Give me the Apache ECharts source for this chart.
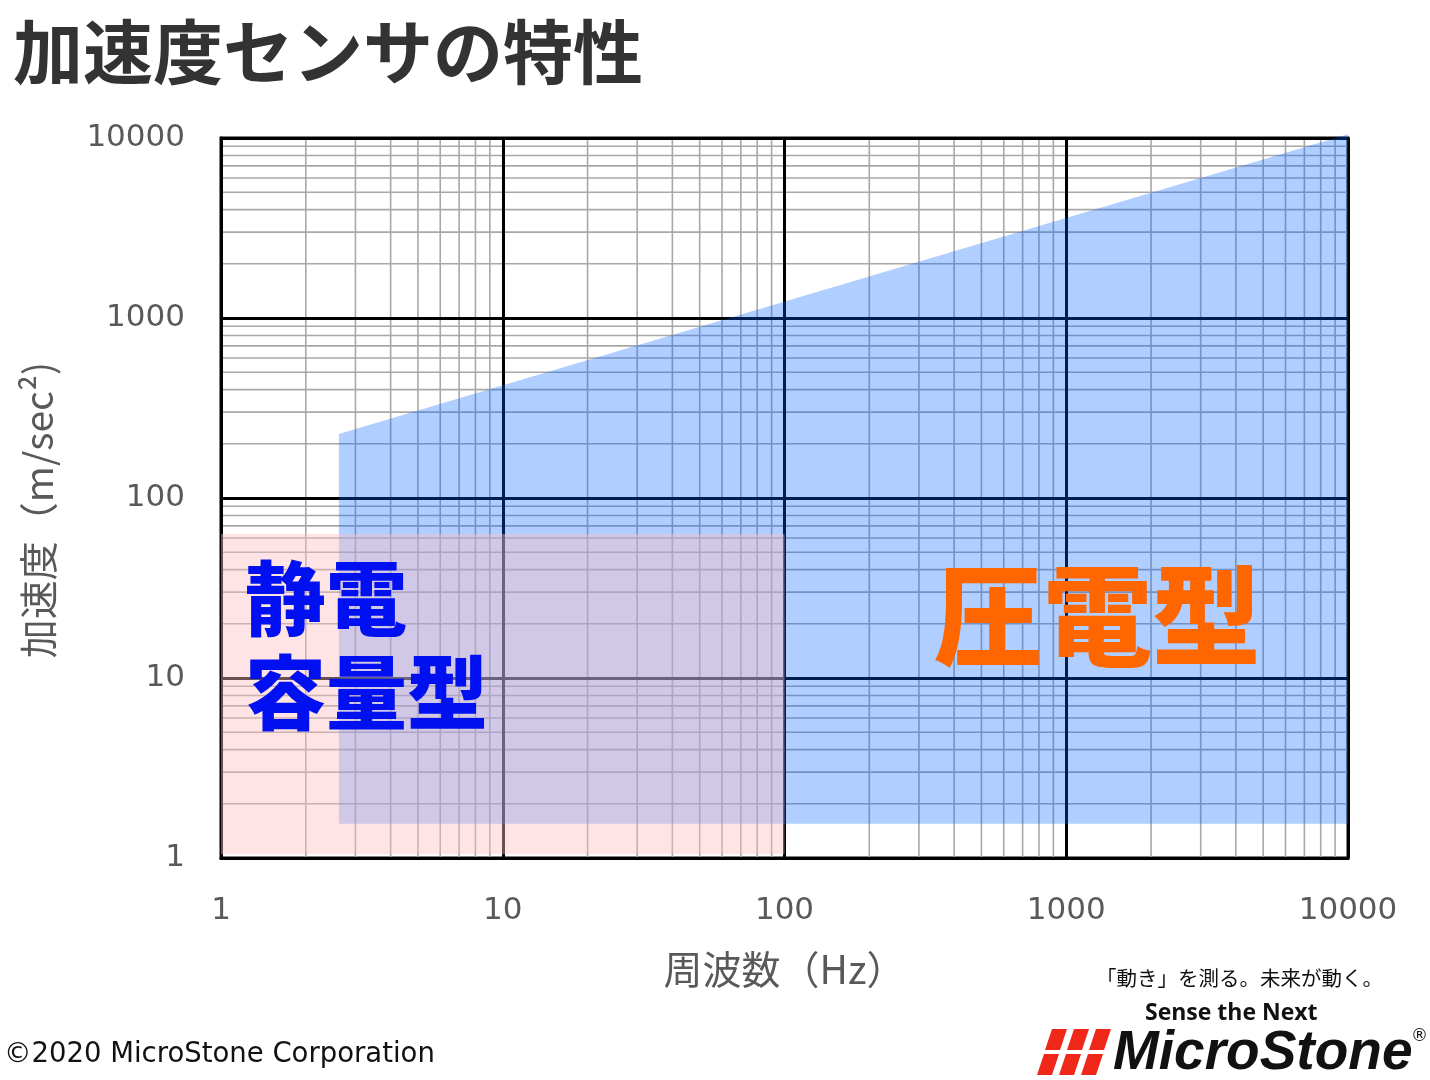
<!DOCTYPE html>
<html>
<head>
<meta charset="utf-8">
<script src="https://cdn.jsdelivr.net/npm/echarts@6/dist/echarts.min.js"></script>
<style>
html,body{margin:0;padding:0;background:#fff;}
#chart{width:1430px;height:1080px;}
</style>
</head>
<body>
<div id="chart"></div>
<script>
// ---- data ----
const decades = [1, 10, 100, 1000, 10000];          // major ticks (both axes)
const minorMult = [2, 3, 4, 5, 6, 7, 8, 9];          // minor grid multipliers
// 圧電型 region (frequency Hz, acceleration m/s^2)
const blueFreq  = [2.62, 10000, 10000, 2.62];
const blueAccel = [227, 10500, 1.55, 1.55];
// 静電容量型 region
const pinkFreq  = [1, 100, 100, 1];
const pinkAccel = [63, 63, 1.05, 1.05];

const minorVals = [];
decades.slice(0, -1).forEach(d => minorMult.forEach(m => minorVals.push(d * m)));
const AX_MIN = decades[0], AX_MAX = decades[decades.length - 1];

const chart = echarts.init(document.getElementById('chart'), null, {renderer: 'canvas'});

function polygonSeries(name, xs, ys, color, z) {
  return {
    name, type: 'custom', z, clip: false, silent: true,
    data: xs.map((x, i) => [x, ys[i]]),
    renderItem: function (params, api) {
      if (params.dataIndex !== 0) return null;
      const pts = xs.map((x, i) => api.coord([x, ys[i]]));
      return {type: 'polygon', shape: {points: pts}, style: {fill: color}};
    }
  };
}

const labelFont = {fontFamily: 'DejaVu Sans', fontSize: 31, color: '#595959'};

const option = {
  backgroundColor: '#fff',
  animation: false,
  grid: {left: 221, top: 138, right: 82, bottom: 222, show: true, borderColor: '#000', borderWidth: 3, backgroundColor: 'transparent'},
  xAxis: {
    type: 'log', logBase: 10, min: AX_MIN, max: AX_MAX, splitNumber: 4, z: 3,
    axisLine: {show: true, lineStyle: {color: '#000', width: 3}},
    axisTick: {show: false},
    splitLine: {show: true, lineStyle: {color: '#000', width: 3}},
    axisLabel: Object.assign({margin: 37, formatter: v => String(Math.round(v))}, labelFont),
    name: '周波数（Hz）', nameLocation: 'middle', nameGap: 92,
    nameTextStyle: {fontFamily: 'Noto Sans CJK JP', fontSize: 39, color: '#595959'}
  },
  yAxis: {
    type: 'log', logBase: 10, min: AX_MIN, max: AX_MAX, splitNumber: 4, z: 3,
    axisLine: {show: true, lineStyle: {color: '#000', width: 3}},
    axisTick: {show: false},
    splitLine: {show: true, lineStyle: {color: '#000', width: 3}},
    axisLabel: Object.assign({margin: 36, formatter: v => String(Math.round(v))}, labelFont),
    name: '加速度（m/sec²)', nameLocation: 'middle', nameGap: 163,
    nameTextStyle: {fontFamily: 'Noto Sans CJK JP', fontSize: 39, color: '#595959', padding: [0, 24, 0, 0]}
  },
  series: [
    {
      name: 'minorX', type: 'custom', z: 1, silent: true,
      data: minorVals.map(v => [v, AX_MIN]),
      renderItem: function (params, api) {
        const v = api.value(0);
        const p1 = api.coord([v, AX_MIN]), p2 = api.coord([v, AX_MAX]);
        return {type: 'line', shape: {x1: p1[0], y1: p1[1], x2: p2[0], y2: p2[1]}, style: {stroke: '#a8a8a8', lineWidth: 1.6}};
      }
    },
    {
      name: 'minorY', type: 'custom', z: 1, silent: true,
      data: minorVals.map(v => [AX_MIN, v]),
      renderItem: function (params, api) {
        const v = api.value(1);
        const p1 = api.coord([AX_MIN, v]), p2 = api.coord([AX_MAX, v]);
        return {type: 'line', shape: {x1: p1[0], y1: p1[1], x2: p2[0], y2: p2[1]}, style: {stroke: '#a8a8a8', lineWidth: 1.6}};
      }
    },
    polygonSeries('圧電型', blueFreq, blueAccel, 'rgba(0,97,255,0.31)', 5),
    polygonSeries('静電容量型', pinkFreq, pinkAccel, 'rgba(255,190,195,0.42)', 6)
  ],
  graphic: [
    {type: 'text', left: 13, top: 17, z: 10, style: {text: '加速度センサの特性', fontFamily: 'Noto Sans CJK JP', fontWeight: 'bold', fontSize: 70, fill: '#333333'}},
    {type: 'text', left: 245, top: 558, z: 10, style: {text: '静電', fontFamily: 'Noto Sans CJK JP', fontWeight: 900, fontSize: 81, fill: '#0010f0'}},
    {type: 'text', left: 245, top: 652, z: 10, style: {text: '容量型', fontFamily: 'Noto Sans CJK JP', fontWeight: 900, fontSize: 81, fill: '#0010f0'}},
    {type: 'text', left: 934, top: 561, z: 10, style: {text: '圧電型', fontFamily: 'Noto Sans CJK JP', fontWeight: 900, fontSize: 109, fill: '#ff6600'}},
    {type: 'text', left: 4, top: 1041, z: 10, style: {text: '©2020 MicroStone Corporation', fontFamily: 'DejaVu Sans', fontSize: 27.5, fill: '#111'}},
    {type: 'text', left: 1096, top: 968, z: 10, style: {text: '「動き」を測る。未来が動く。', fontFamily: 'Noto Sans CJK JP', fontSize: 20.5, fill: '#111'}},
    {type: 'text', left: 1145, top: 1002, z: 10, style: {text: 'Sense the Next', fontFamily: 'Open Sans', fontWeight: 'bold', fontSize: 23, fill: '#111'}},
    {type: 'text', left: 1113, top: 1026, z: 10, style: {text: 'MicroStone', fontFamily: 'Liberation Sans', fontWeight: 'bold', fontStyle: 'italic', fontSize: 55, fill: '#111'}},
    {type: 'text', left: 1411, top: 1028, z: 10, style: {text: '®', fontFamily: 'DejaVu Sans', fontSize: 17, fill: '#111'}},
    // red mark (3 x 2 slanted blocks)
    {type: 'group', left: 1037, top: 1029, z: 10, children: (function () {
      const out = [];
      for (let r = 0; r < 2; r++) for (let c = 0; c < 3; c++) {
        const y0 = r * 25, h = 21, w = 15, skew = 7;
        const x0 = c * 22 + (1 - r) * 8;
        out.push({type: 'polygon', shape: {points: [[x0 + skew, y0], [x0 + skew + w, y0], [x0 + w, y0 + h], [x0, y0 + h]]}, style: {fill: '#f0281a'}});
      }
      return out;
    })()}
  ]
};
chart.setOption(option);
</script>
</body>
</html>
